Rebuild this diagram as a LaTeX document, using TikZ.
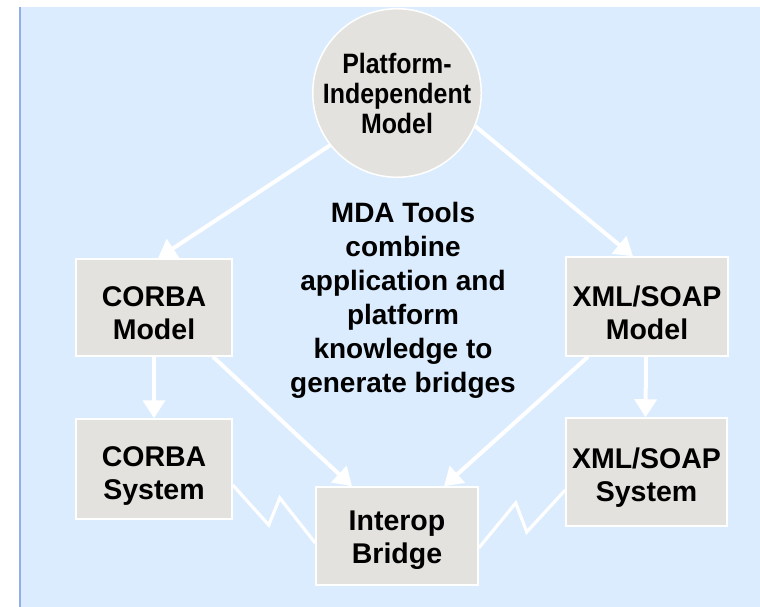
\documentclass[tikz,border=0pt]{standalone}
\usepackage{fontspec}
\setmainfont{Liberation Sans}
\newfontfamily\narrowf[FakeStretch=0.89]{Liberation Sans}
\usetikzlibrary{arrows.meta}
\definecolor{bgblue}{RGB}{219,236,254}
\definecolor{edgeblue}{RGB}{150,170,240}
\definecolor{boxgray}{RGB}{227,226,222}
\begin{document}
\begin{tikzpicture}[x=1pt,y=-1pt,
  box/.style={draw=white,line width=1.5pt,fill=boxgray,inner sep=0pt},
  boxtext/.style={align=center,inner sep=0pt,yshift=-6pt,
    font=\fontsize{28.5}{33}\selectfont\bfseries},
  pimstyle/.style={circle,draw=white,line width=1.5pt,fill=boxgray,inner sep=0pt,
    minimum size=160pt,align=center,font=\fontsize{28}{30}\selectfont\narrowf\bfseries},
  conn/.style={draw=white,line width=4pt,-{Triangle[length=18pt,width=22pt]}},
  zig/.style={draw=white,line width=3.2pt,line join=miter}]
\useasboundingbox (0,0) rectangle (760,607);
\fill[bgblue] (19,7) rectangle (760,607);
\draw[edgeblue,line width=2pt] (20,7) -- (20,607);

\node[pimstyle] (pim) at (397,93) {Platform-\\Independent\\Model};
\node[box,minimum width=156pt,minimum height=97pt,
  label={[boxtext,name=cmt]center:{CORBA\\Model}}] (cm) at (154,307.5) {};
\node[box,minimum width=156pt,minimum height=100pt,
  label={[boxtext,name=cst,yshift=-1pt]center:{CORBA\\System}}] (cs) at (154,469) {};
\node[box,minimum width=162pt,minimum height=99pt,
  label={[boxtext,name=xmt]center:{XML/SOAP\\Model}}] (xm) at (647,306.5) {};
\node[box,minimum width=161pt,minimum height=108pt,
  label={[boxtext,name=xst]center:{XML/SOAP\\System}}] (xs) at (646.5,472) {};
\node[box,minimum width=162pt,minimum height=98pt,
  label={[boxtext,name=ibt,yshift=2pt]center:{Interop\\Bridge}}] (ib) at (397,536) {};
\node[align=center,inner sep=0pt,font=\fontsize{28}{34}\selectfont\bfseries] (txt) at (403,300)
  {MDA Tools\\combine\\application and\\platform\\knowledge to\\generate bridges};

\draw[conn] (pim.218) -- ([xshift=4pt]cm.north);
\draw[conn] (pim.-23) -- ([xshift=-14pt]xm.north);
\draw[conn] (cm.south) -- (cs.north);
\draw[conn] ([xshift=-1pt]xm.south) -- ([xshift=-1pt]xs.north);
\draw[conn] ([xshift=59pt]cm.south) -- ([xshift=-45pt]ib.north);
\draw[conn] ([xshift=-59pt]xm.south) -- ([xshift=47pt]ib.north);

\draw[zig] ([yshift=-16pt]cs.east) -- ++(36,40) -- ++(11,-27) -- ([yshift=-7pt]ib.west);
\draw[zig] ([yshift=-12pt]ib.east) -- ++(37,-45) -- ++(11,29) -- ([yshift=-18pt]xs.west);
\end{tikzpicture}
\end{document}
